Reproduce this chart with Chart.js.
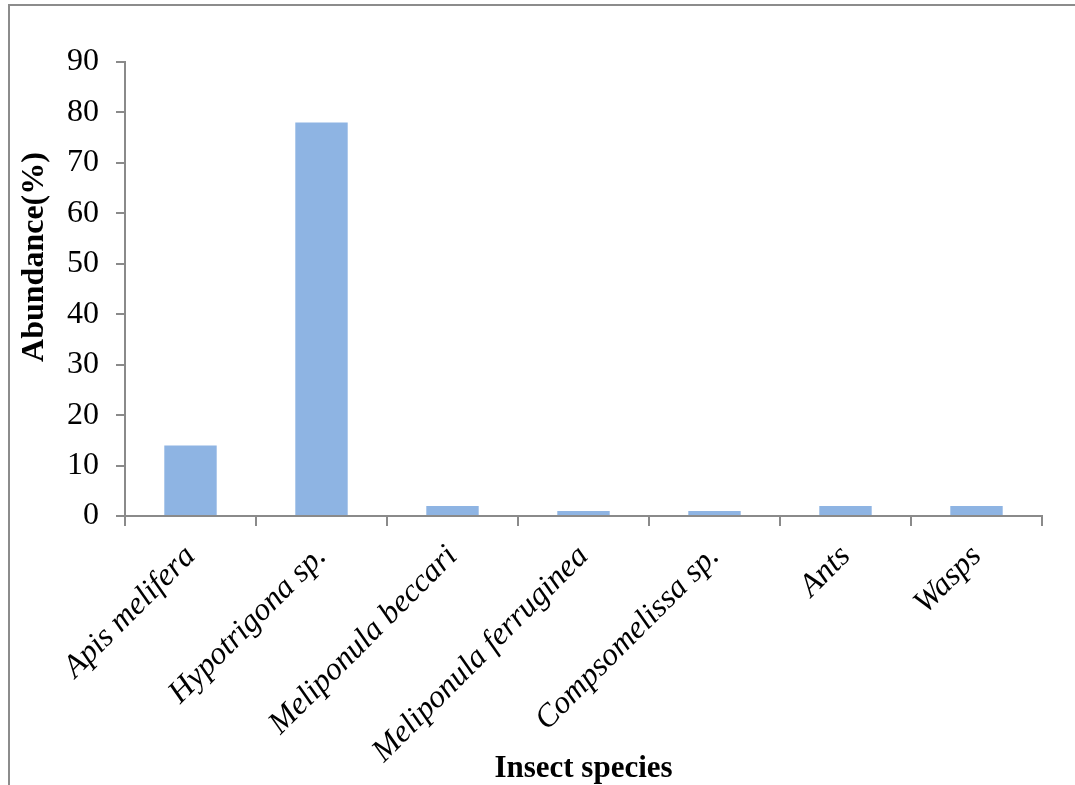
<!DOCTYPE html>
<html>
<head>
<meta charset="utf-8">
<script src="https://cdn.jsdelivr.net/npm/chart.js@4/dist/chart.umd.min.js"></script>
<style>
  html, body { margin: 0; padding: 0; background: #fff; }
  #wrap { position: relative; width: 1075px; height: 785px; }
  #frame {
    position: absolute; left: 8px; top: 4px; width: 1067px; height: 781px;
    border-top: 2px solid #8c8c8c; border-left: 2px solid #8c8c8c;
    box-sizing: border-box; pointer-events: none;
  }
</style>
</head>
<body>
<div id="wrap">
  <canvas id="abundanceChart" width="1075" height="785"></canvas>
  <div id="frame"></div>
</div>
<script>
// insect species and their abundance (%)
var species = ["Apis melifera", "Hypotrigona sp.", "Meliponula beccari",
  "Meliponula ferruginea", "Compsomelissa sp.", "Ants", "Wasps"];
var abundance = [14, 78, 2, 1, 1, 2, 2];
var yTicks = [0, 10, 20, 30, 40, 50, 60, 70, 80, 90];

var axisGray = "#8a8a8a";
var serif = "'Liberation Serif', 'Times New Roman', serif";

// y title drawn by hand so it sits where the original has it
var yTitlePlugin = {
  id: "yTitle",
  afterDraw: function (chart) {
    var ctx = chart.ctx;
    ctx.save();
    ctx.translate(35, 257);
    ctx.rotate(-Math.PI / 2);
    ctx.font = "bold 32px " + serif;
    ctx.fillStyle = "#000";
    ctx.textAlign = "center";
    ctx.textBaseline = "middle";
    ctx.fillText("Abundance(%)", 0, 0);
    ctx.restore();
  }
};

var ctx = document.getElementById("abundanceChart").getContext("2d");
var chart = new Chart(ctx, {
  type: "bar",
  data: {
    labels: species,
    datasets: [{
      label: "Abundance(%)",
      data: abundance,
      backgroundColor: "rgb(142, 180, 227)",
      borderWidth: 0,
      barPercentage: 0.4,
      categoryPercentage: 1.0
    }]
  },
  options: {
    responsive: false,
    animation: false,
    layout: { padding: { left: 0, right: 33, top: 62, bottom: 0 } },
    plugins: {
      legend: { display: false },
      tooltip: { enabled: false }
    },
    scales: {
      x: {
        grid: {
          offset: true,
          drawOnChartArea: false,
          color: axisGray,
          lineWidth: 2,
          tickLength: 10
        },
        border: { color: axisGray, width: 2 },
        ticks: {
          color: "#000",
          font: { family: serif, size: 32, style: "italic" },
          minRotation: 45,
          maxRotation: 45,
          padding: 12,
          autoSkip: false
        },
        title: {
          display: true,
          text: "Insect species",
          color: "#000",
          font: { family: serif, size: 31, weight: "bold" },
          padding: { top: 0, bottom: -3 }
        },
        afterFit: function (scale) { scale.height = 269; }
      },
      y: {
        min: 0,
        max: 90,
        afterBuildTicks: function (scale) {
          scale.ticks = yTicks.map(function (v) { return { value: v }; });
        },
        grid: {
          drawOnChartArea: false,
          color: axisGray,
          lineWidth: 2,
          tickLength: 9
        },
        border: { color: axisGray, width: 2 },
        ticks: {
          color: "#000",
          font: { family: serif, size: 32 },
          padding: 17
        },
        afterFit: function (scale) { scale.width = 125; }
      }
    }
  },
  plugins: [yTitlePlugin]
});
</script>
</body>
</html>
